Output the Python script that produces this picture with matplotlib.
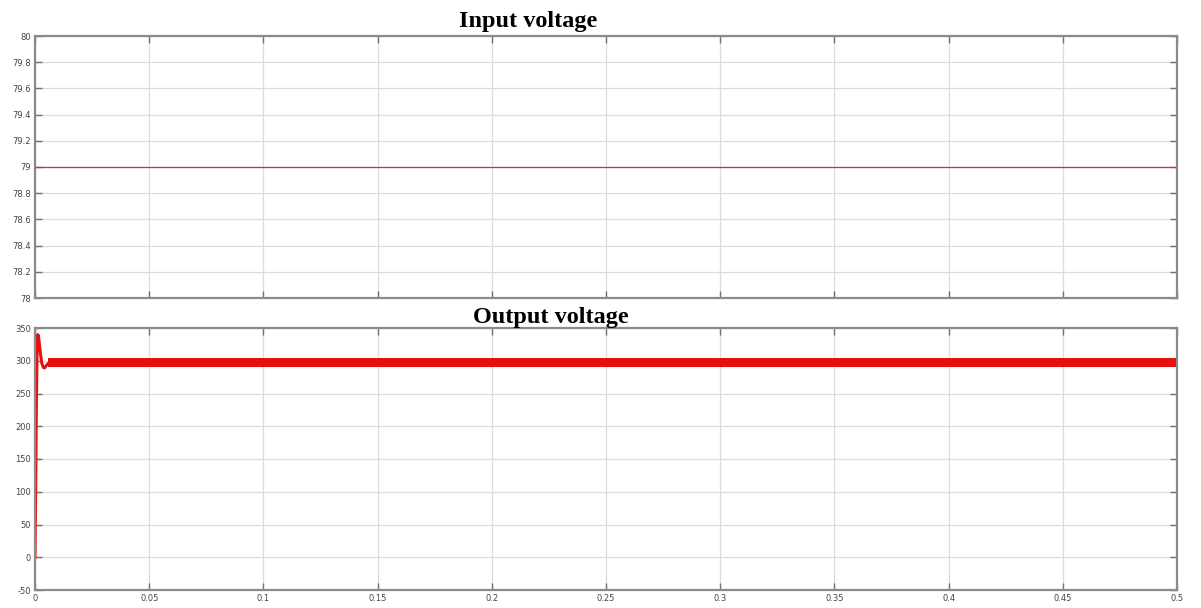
import numpy as np
import matplotlib
matplotlib.use("Agg")
import matplotlib.pyplot as plt

plt.rcParams["axes.unicode_minus"] = False

# Input voltage (constant supply)
t_in = [0.0, 0.5]
v_in = [79.0, 79.0]

# Output voltage start-up transient
t_out = [0.0, 0.0003, 0.0006, 0.0009, 0.0012, 0.0015, 0.0019, 0.0024, 0.0030, 0.0036, 0.0042, 0.0048, 0.0055, 0.0062, 0.0070]
v_out = [0.0, 100.0, 230.0, 315.0, 340.0, 338.0, 326.0, 310.0, 296.0, 290.0, 289.0, 292.0, 295.0, 297.0, 297.0]

# Steady-state ripple band of the output
t_ripple = [0.0055, 0.5]
v_ripple_lo = [291.0, 291.0]
v_ripple_hi = [304.0, 304.0]

x_ticks = [0, 0.05, 0.1, 0.15, 0.2, 0.25, 0.3, 0.35, 0.4, 0.45, 0.5]
x_labels = ["0", "0.05", "0.1", "0.15", "0.2", "0.25", "0.3", "0.35", "0.4", "0.45", "0.5"]
y_in_ticks = [78, 78.2, 78.4, 78.6, 78.8, 79, 79.2, 79.4, 79.6, 79.8, 80]
y_in_labels = ["78", "78.2", "78.4", "78.6", "78.8", "79", "79.2", "79.4", "79.6", "79.8", "80"]
y_out_ticks = [-50, 0, 50, 100, 150, 200, 250, 300, 350]

fig = plt.figure(figsize=(12.01, 6.08), dpi=100)
W, H = 1201.0, 608.0
ax1 = fig.add_axes([35 / W, 1 - 298 / H, (1177 - 35) / W, (298 - 36) / H])
ax2 = fig.add_axes([35 / W, 1 - 590 / H, (1177 - 35) / W, (590 - 328) / H])

def style(ax):
    ax.set_xlim(0, 0.5)
    ax.set_xticks(x_ticks)
    ax.grid(True, color="#dcdcdc", linewidth=0.9)
    ax.set_axisbelow(True)
    for s in ax.spines.values():
        s.set_color("#8a8a8a")
        s.set_linewidth(1.6)
    ax.tick_params(direction="in", length=5, width=1, color="#707070",
                   labelsize=6, labelcolor="#444444", pad=3,
                   top=True, right=True)

# Input voltage panel
style(ax1)
ax1.plot(t_in, v_in, color="#e8262a", linewidth=0.9)
ax1.set_ylim(78, 80)
ax1.set_yticks(y_in_ticks)
ax1.set_yticklabels(y_in_labels)
ax1.set_xticklabels([])

# Output voltage panel
style(ax2)
ax2.fill_between(t_ripple, v_ripple_lo, v_ripple_hi, color="#e8100f", linewidth=0)
ax2.plot(t_out, v_out, color="#e8100f", linewidth=2.2)
ax2.set_ylim(-50, 350)
ax2.set_yticks(y_out_ticks)
ax2.set_xticklabels(x_labels)

# Panel titles
fig.text(528 / W, 1 - 21 / H, "Input voltage", family="Liberation Serif",
         fontweight="bold", fontsize=17.5, ha="center", va="center")
fig.text(551 / W, 1 - 317 / H, "Output voltage", family="Liberation Serif",
         fontweight="bold", fontsize=17.5, ha="center", va="center")

fig.savefig("out.png", dpi=100)
